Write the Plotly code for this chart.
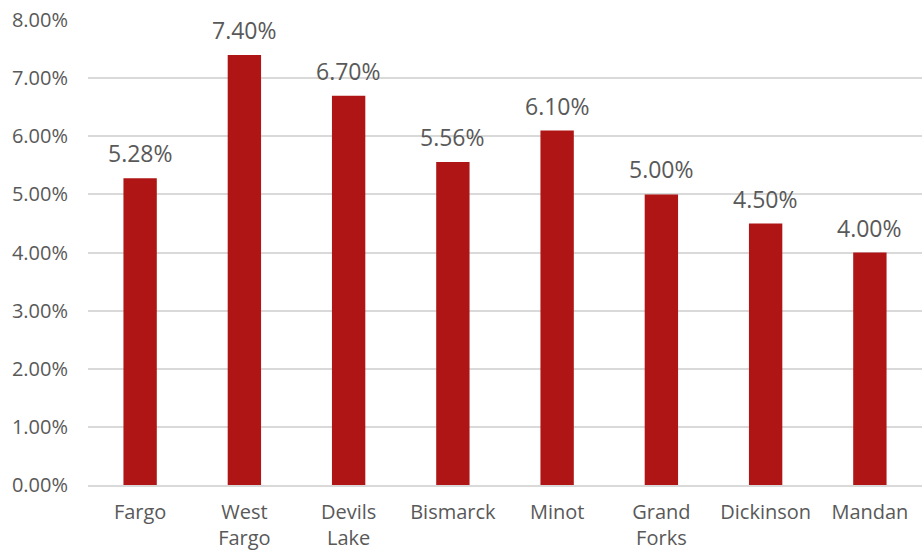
import plotly.graph_objects as go

categories = ["Fargo", "West<br>Fargo", "Devils<br>Lake", "Bismarck", "Minot", "Grand<br>Forks", "Dickinson", "Mandan"]
values = [5.28, 7.40, 6.70, 5.56, 6.10, 5.00, 4.50, 4.00]
tick_vals = [0, 1, 2, 3, 4, 5, 6, 7, 8]
tick_text = [f"{v:.2f}%" for v in tick_vals]

FONT = "Open Sans, Lato, sans-serif"
GREY = "#595959"

fig = go.Figure(go.Bar(
    x=categories, y=values,
    marker=dict(color="#B01515", line=dict(width=0)),
    hoverinfo="skip",
))

for c, v in zip(categories, values):
    fig.add_annotation(x=c, y=v, text=f"{v:.2f}%", showarrow=False,
                       yanchor="bottom", yshift=7,
                       font=dict(family=FONT, size=23, color=GREY))

fig.update_layout(
    width=923, height=550,
    margin=dict(l=88, r=1, t=20, b=65),
    paper_bgcolor="white", plot_bgcolor="white",
    bargap=0.68,
    showlegend=False,
    font=dict(family=FONT, size=20, color=GREY),
)
fig.update_xaxes(showgrid=False, showline=True, linecolor="#D9D9D9", linewidth=2,
                 ticks="", tickfont=dict(size=20, color=GREY), ticklabelstandoff=8,
                 automargin=False)
fig.update_yaxes(range=[0, 8.002], tickvals=tick_vals, ticktext=tick_text,
                 showgrid=True, gridcolor="#D9D9D9", gridwidth=2,
                 zeroline=False, showline=False, ticks="",
                 tickfont=dict(size=20, color=GREY), ticklabelstandoff=19,
                 ticklabeloverflow="allow", automargin=False)

fig.write_html("out.html",
               config={"displayModeBar": False},
               post_script="document.body.style.margin='0';document.body.style.overflow='hidden';")
